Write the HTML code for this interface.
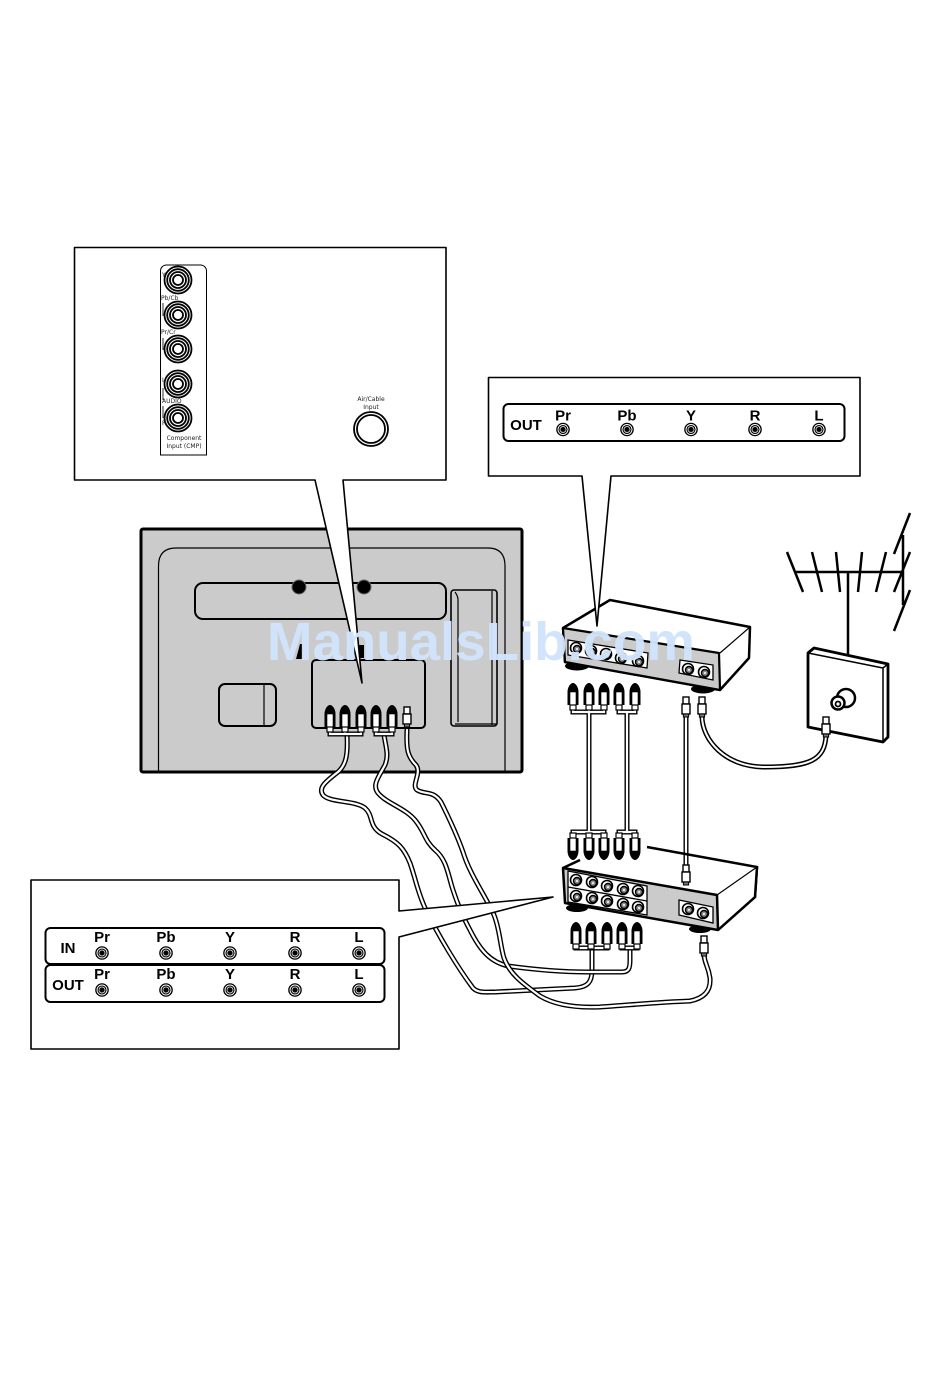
<!DOCTYPE html>
<html>
<head>
<meta charset="utf-8">
<style>
html,body{margin:0;padding:0;background:#fff}
svg{display:block}
text{font-family:"Liberation Sans",sans-serif}
.b{font-weight:bold;font-size:15px;text-anchor:middle;fill:#000}
.s{font-family:"DejaVu Sans","Liberation Sans",sans-serif;font-size:6px;fill:#222}
.k{fill:none;stroke:#000;stroke-width:5;stroke-linejoin:round;stroke-linecap:round}
.w{fill:none;stroke:#fff;stroke-width:2.200;stroke-linejoin:round;stroke-linecap:round}
</style>
</head>
<body>
<svg width="950" height="1392" viewBox="0 0 950 1392" xmlns="http://www.w3.org/2000/svg">
<defs>
<g id="rca">
<path d="M-5.500,7 V-6 C-5.500,-11 -2.500,-15 0,-15 C2.500,-15 5.500,-11 5.500,-6 V7Z" fill="#000"/>
<rect x="-3" y="-6" width="6" height="13" fill="#fff" stroke="#000" stroke-width=".6"/>
<rect x="-3" y="7" width="6" height="5" fill="#fff" stroke="#000" stroke-width="1.200"/>
</g>
<g id="rcad">
<path d="M-5.500,-7 V6 C-5.500,11 -2.500,15 0,15 C2.500,15 5.500,11 5.500,6 V-7Z" fill="#000"/>
<rect x="-3" y="-7" width="6" height="13" fill="#fff" stroke="#000" stroke-width=".6"/>
<rect x="-3" y="-12" width="6" height="5" fill="#fff" stroke="#000" stroke-width="1.200"/>
</g>
<g id="f">
<rect x="-3" y="-10" width="6" height="7" fill="#fff" stroke="#000" stroke-width="1.400"/>
<rect x="-4" y="-3" width="8" height="10" fill="#fff" stroke="#000" stroke-width="1.400"/>
<rect x="-2.600" y="7" width="5.200" height="3" fill="#777" stroke="#000" stroke-width="1"/>
</g>
<g id="j">
<circle r="6.800" fill="#000"/><circle r="5" fill="none" stroke="#fff" stroke-width=".9"/><circle r="3" fill="none" stroke="#ccc" stroke-width=".9"/><circle r="1" fill="#000"/>
</g>
<g id="dj">
<circle r="5.500" fill="#fff" stroke="#000" stroke-width="1.600"/><circle cx="1" cy="1" r="3.500" fill="#888" stroke="#000" stroke-width="1.400"/><circle cx="1" cy="1" r="1.100" fill="#eee"/>
</g>
<g id="bj">
<circle r="13.500" fill="#fff" stroke="#000" stroke-width="1.800"/><circle r="10.800" fill="none" stroke="#000" stroke-width="1.800"/><circle r="8" fill="none" stroke="#000" stroke-width="1.800"/><circle r="5" fill="#fff" stroke="#000" stroke-width="1.800"/>
</g>
</defs>
<rect width="950" height="1392" fill="#fff"/>

<!-- TV -->
<rect x="141" y="529" width="381" height="243" rx="2" fill="#cbcbcb" stroke="#000" stroke-width="3"/>
<path d="M158.500,771 V566 Q158.500,548 176,548 H488 Q505,548 505,566 V771" fill="none" stroke="#000" stroke-width="1.200"/>
<rect x="195" y="583" width="251" height="36" rx="8" fill="#cbcbcb" stroke="#000" stroke-width="2"/>
<circle cx="299" cy="587" r="7" fill="#000"/><circle cx="299" cy="587" r="7" fill="none" stroke="#666" stroke-width="1"/>
<circle cx="364" cy="587" r="7" fill="#000"/><circle cx="364" cy="587" r="7" fill="none" stroke="#666" stroke-width="1"/>
<rect x="219" y="684" width="57" height="42" rx="6" fill="#cbcbcb" stroke="#000" stroke-width="2"/>
<path d="M264,684V726" stroke="#000" stroke-width="1.200"/>
<rect x="451" y="590" width="46" height="136" rx="3" fill="#cbcbcb" stroke="#000" stroke-width="1.600"/>
<path d="M455,592 Q458,596 458,600 V722 M492,591 V725 M455,724 H496" fill="none" stroke="#000" stroke-width="1.200"/>
<rect x="312" y="660" width="113" height="68" rx="4" fill="#cbcbcb" stroke="#000" stroke-width="2"/>
<path d="M296,659 L300,644 H303 V659Z M358,658 V645 H364 V658Z" fill="#000"/>

<!-- Cables -->
<g id="cables">
<path d="M347,735 C348,755 346,765 338,772 C325,782 318,788 323,795 C330,803 355,800 365,808 C374,816 368,826 382,834 C398,842 404,848 410,863 C416,880 417,890 425,908 C438,935 458,968 473,988 C478,993 484,992 495,992 L575,988 C588,987 592,982 592,970 L592,948" class="k"/>
<path d="M347,735 C348,755 346,765 338,772 C325,782 318,788 323,795 C330,803 355,800 365,808 C374,816 368,826 382,834 C398,842 404,848 410,863 C416,880 417,890 425,908 C438,935 458,968 473,988 C478,993 484,992 495,992 L575,988 C588,987 592,982 592,970 L592,948" class="w"/>
<path d="M384,735 C386,748 389,755 385,765 C378,778 372,785 378,793 C386,803 405,808 415,820 C425,832 424,840 435,850 C447,860 448,875 453,890 C458,905 462,915 470,930 C480,950 490,962 508,966 C530,969 560,972 587,972 L622,972 C629,972 630,968 630,960 L630,948" class="k"/>
<path d="M384,735 C386,748 389,755 385,765 C378,778 372,785 378,793 C386,803 405,808 415,820 C425,832 424,840 435,850 C447,860 448,875 453,890 C458,905 462,915 470,930 C480,950 490,962 508,966 C530,969 560,972 587,972 L622,972 C629,972 630,968 630,960 L630,948" class="w"/>
<path d="M407,730 C406,750 408,757 416,765 C422,773 411,785 417,790 C425,795 433,790 441,802 C450,820 457,835 463,852 C470,875 485,895 494,915 C500,930 500,945 504,958 C510,975 525,985 540,996 C555,1005 575,1008 600,1007 C630,1005 660,1002 690,1001 C705,998 711,990 710,978 C708,965 705,965 704,955" class="k"/>
<path d="M407,730 C406,750 408,757 416,765 C422,773 411,785 417,790 C425,795 433,790 441,802 C450,820 457,835 463,852 C470,875 485,895 494,915 C500,930 500,945 504,958 C510,975 525,985 540,996 C555,1005 575,1008 600,1007 C630,1005 660,1002 690,1001 C705,998 711,990 710,978 C708,965 705,965 704,955" class="w"/>
<!-- TV yokes -->
<path d="M330,727 V734 H361 V727 M345,727 V734 M376,727 V734 H392 V727" fill="none" stroke="#000" stroke-width="5"/>
<path d="M330,727 V734 H361 V727 M345,727 V734 M376,727 V734 H392 V727" fill="none" stroke="#fff" stroke-width="2.200"/>
</g>
<use href="#rca" x="330" y="720"/><use href="#rca" x="345" y="720"/><use href="#rca" x="361" y="720"/><use href="#rca" x="376" y="720"/><use href="#rca" x="392" y="720"/>
<use href="#f" x="407" y="717"/>

<!-- Device 1 -->
<ellipse cx="577" cy="666" rx="12" ry="4.500" fill="#000"/>
<ellipse cx="703" cy="689" rx="12" ry="4.500" fill="#000"/>
<path d="M563,628 L610,600 L750,627 L749,658 L720,690 L565,662Z" fill="#fff" stroke="#000" stroke-width="2.500" stroke-linejoin="round"/>
<path d="M563,628 L719,653 L720,690 L565,662Z" fill="#cbcbcb" stroke="#000" stroke-width="2.200" stroke-linejoin="round"/>
<path d="M720,653 L750,627" stroke="#000" stroke-width="1.200"/>
<path d="M568,640 L648,653 L647,668 L568,655Z" fill="#fff" stroke="#000" stroke-width="1.300"/>
<path d="M680,660 L713,665 L713,680 L679,673Z" fill="#fff" stroke="#000" stroke-width="1.300"/>
<use href="#dj" x="576" y="648"/><use href="#dj" x="591" y="651"/><use href="#dj" x="606" y="654"/><use href="#dj" x="621" y="658"/><use href="#dj" x="638" y="661"/>
<use href="#dj" x="688" y="669"/><use href="#dj" x="704" y="672"/>

<!-- Links device 1 to 2 -->
<g fill="none">
<path d="M573,705 V712 H604 V705 M589,712 V832 M573,840 V832 H604 V840 M589,705 V712 M619,705 V712 H635 V705 M627,712 V832 M619,840 V832 H635 V840 M686,717 V866" stroke="#000" stroke-width="5"/>
<path d="M573,705 V712 H604 V705 M589,712 V832 M573,840 V832 H604 V840 M589,705 V712 M619,705 V712 H635 V705 M627,712 V832 M619,840 V832 H635 V840 M686,717 V866" stroke="#fff" stroke-width="2.200"/>
<path d="M702,716 C702,740 725,767 765,767 C810,767 825,760 826,735" stroke="#000" stroke-width="5"/>
<path d="M702,716 C702,740 725,767 765,767 C810,767 825,760 826,735" stroke="#fff" stroke-width="2"/>
</g>
<use href="#rca" x="573" y="698"/><use href="#rca" x="589" y="698"/><use href="#rca" x="604" y="698"/><use href="#rca" x="619" y="698"/><use href="#rca" x="635" y="698"/>
<use href="#f" x="686" y="707"/><use href="#f" x="702" y="707"/>

<!-- Antenna -->
<g stroke="#000" stroke-width="2.500" fill="none">
<path d="M795,572 H903 M848,572 V658 M787,552 L803,592 M812,552 L822,592 M836,552 L840,592 M862,552 L858,592 M886,552 L876,592 M910,552 L894,592 M910,513 L894,554 M910,590 L894,631 M903,535 V605"/>
</g>
<!-- Wall plate -->
<path d="M808,653 L814,648 L888,664 L888,737 L883,742 L808,727Z" fill="#fff" stroke="#000" stroke-width="2.800" stroke-linejoin="round"/>
<path d="M808,653 L883,668 V742 M883,668 L888,664" fill="none" stroke="#000" stroke-width="1.500"/>
<circle cx="846" cy="698" r="9" fill="#fff" stroke="#000" stroke-width="2.500"/>
<circle cx="838" cy="703" r="6.500" fill="#fff" stroke="#000" stroke-width="2.500"/>
<circle cx="838" cy="704" r="2.500" fill="#fff" stroke="#000" stroke-width="1.800"/>
<use href="#f" x="826" y="727"/>

<!-- Device 2 -->
<path d="M647,847 L757,867 L755,897 L718,930" fill="none" stroke="#000" stroke-width="2.500"/>
<path d="M580,860 L563,868" stroke="#000" stroke-width="2.500"/>
<path d="M757,867 L755,897 L718,930 L717,895Z M563,868 L717,895 L718,930 L565,903Z" fill="#fff"/>
<path d="M717,895 L757,867" stroke="#000" stroke-width="1.200"/>
<path d="M757,867 L755,897 L718,930" fill="none" stroke="#000" stroke-width="2.500"/>
<ellipse cx="577" cy="908" rx="11" ry="4" fill="#000"/>
<ellipse cx="700" cy="929" rx="11" ry="4" fill="#000"/>
<path d="M563,868 L717,895 L718,930 L565,903Z" fill="#cbcbcb" stroke="#000" stroke-width="2.500" stroke-linejoin="round"/>
<path d="M568,871 L647,886 L647,915 L568,902Z" fill="#fff" stroke="#000" stroke-width="1.300"/>
<path d="M568,887 L647,901" stroke="#000" stroke-width="1.300"/>
<path d="M679,900 L713,907 L713,923 L679,915Z" fill="#fff" stroke="#000" stroke-width="1.300"/>
<use href="#dj" x="576" y="880"/><use href="#dj" x="592" y="882"/><use href="#dj" x="607" y="886"/><use href="#dj" x="623" y="889"/><use href="#dj" x="638" y="891"/>
<use href="#dj" x="576" y="896"/><use href="#dj" x="592" y="898"/><use href="#dj" x="607" y="901"/><use href="#dj" x="623" y="904"/><use href="#dj" x="638" y="907"/>
<use href="#dj" x="688" y="909"/><use href="#dj" x="703" y="913"/>
<use href="#rcad" x="573" y="845"/><use href="#rcad" x="589" y="845"/><use href="#rcad" x="604" y="845"/><use href="#rcad" x="619" y="845"/><use href="#rcad" x="635" y="845"/>
<use href="#f" x="686" y="875"/>

<!-- Below device 2 -->
<g fill="none">
<path d="M576,943 V948 H607 V943 M591,943 V948 M622,943 V948 H637 V943" stroke="#000" stroke-width="5"/>
<path d="M576,943 V948 H607 V943 M591,943 V948 M622,943 V948 H637 V943" stroke="#fff" stroke-width="2.200"/>
</g>
<use href="#rca" x="576" y="937"/><use href="#rca" x="591" y="937"/><use href="#rca" x="607" y="937"/><use href="#rca" x="622" y="937"/><use href="#rca" x="637" y="937"/>
<use href="#f" x="704" y="946"/>

<!-- Callout TV -->
<path d="M74.500,247.500 H446 V480 H343 L362,683 L315,480 H74.500Z" fill="#fff" stroke="#000" stroke-width="1.600" stroke-linejoin="round"/>
<rect x="160.500" y="265" width="46" height="190" rx="6" fill="#fff" stroke="#000" stroke-width="1"/>
<rect x="160.500" y="440" width="46" height="15" fill="#fff" stroke="none"/>
<path d="M160.500,438 V455 H206.500 V438" fill="none" stroke="#000" stroke-width="1"/>
<use href="#bj" x="178" y="280"/><use href="#bj" x="178" y="315"/><use href="#bj" x="178" y="349"/><use href="#bj" x="178" y="384"/><use href="#bj" x="178" y="418"/>
<path d="M163,303 V316 M163,338 V350 M163,388 V400 M163,406 V418" stroke="#000" stroke-width=".8"/>
<text x="162" y="277" class="s">Y</text>
<text x="161" y="300" class="s">Pb/Cb</text>
<text x="161" y="334" class="s">Pr/Cr</text>
<text x="162" y="382" class="s">L</text>
<text x="162" y="403" class="s">AUDIO</text>
<text x="162" y="425" class="s">R</text>
<text x="184" y="440" class="s" text-anchor="middle">Component</text>
<text x="184" y="448" class="s" text-anchor="middle">Input (CMP)</text>
<text x="371" y="401" class="s" text-anchor="middle">Air/Cable</text>
<text x="371" y="409" class="s" text-anchor="middle">Input</text>
<circle cx="371" cy="429" r="17" fill="#fff" stroke="#000" stroke-width="1.800"/>
<circle cx="371" cy="429" r="14" fill="#fff" stroke="#000" stroke-width="1.800"/>

<!-- Callout device 1 -->
<path d="M488.500,377.500 H860 V476 H611 L597,626 L582,476 H488.500Z" fill="#fff" stroke="#000" stroke-width="1.600" stroke-linejoin="round"/>
<rect x="503.500" y="404" width="341" height="37" rx="5" fill="#fff" stroke="#000" stroke-width="2"/>
<text x="526" y="430" class="b">OUT</text>
<text x="563" y="420.500" class="b">Pr</text><text x="627" y="420.500" class="b">Pb</text><text x="691" y="420.500" class="b">Y</text><text x="755" y="420.500" class="b">R</text><text x="819" y="420.500" class="b">L</text>
<use href="#j" x="563" y="429.500"/><use href="#j" x="627" y="429.500"/><use href="#j" x="691" y="429.500"/><use href="#j" x="755" y="429.500"/><use href="#j" x="819" y="429.500"/>

<!-- Callout device 2 -->
<path d="M31,880 H399 V911 L553,897 L399,937 V1049 H31Z" fill="#fff" stroke="#000" stroke-width="1.600" stroke-linejoin="round"/>
<rect x="45.500" y="928" width="339" height="36" rx="5" fill="#fff" stroke="#000" stroke-width="2"/>
<rect x="45.500" y="965" width="339" height="37" rx="5" fill="#fff" stroke="#000" stroke-width="2"/>
<text x="68" y="953" class="b">IN</text>
<text x="68" y="990" class="b">OUT</text>
<g>
<text x="102" y="942" class="b">Pr</text><text x="166" y="942" class="b">Pb</text><text x="230" y="942" class="b">Y</text><text x="295" y="942" class="b">R</text><text x="359" y="942" class="b">L</text>
<text x="102" y="979" class="b">Pr</text><text x="166" y="979" class="b">Pb</text><text x="230" y="979" class="b">Y</text><text x="295" y="979" class="b">R</text><text x="359" y="979" class="b">L</text>
</g>
<use href="#j" x="102" y="953"/><use href="#j" x="166" y="953"/><use href="#j" x="230" y="953"/><use href="#j" x="295" y="953"/><use href="#j" x="359" y="953"/>
<use href="#j" x="102" y="990"/><use href="#j" x="166" y="990"/><use href="#j" x="230" y="990"/><use href="#j" x="295" y="990"/><use href="#j" x="359" y="990"/>

<!-- Watermark -->
<text x="267" y="660" textLength="428" lengthAdjust="spacingAndGlyphs" style="font-weight:bold;font-size:54px;fill:#cfe3fb;fill-opacity:.97">ManualsLib.com</text>
</svg>
</body>
</html>
